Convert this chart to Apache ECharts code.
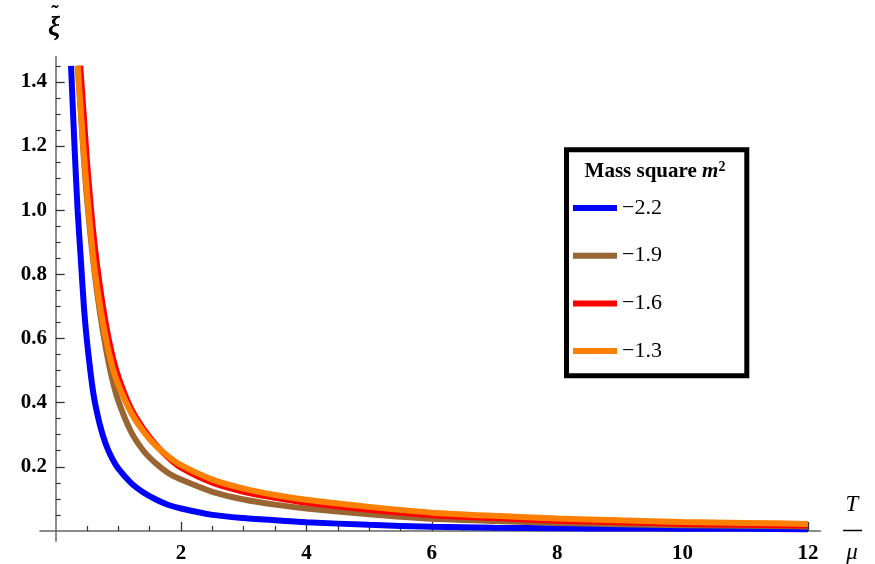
<!DOCTYPE html>
<html>
<head>
<meta charset="utf-8">
<script src="https://cdn.jsdelivr.net/npm/echarts@6/dist/echarts.min.js"></script>
<style>
  html, body { margin: 0; padding: 0; background: #fff; }
  #chart { width: 875px; height: 564px; }
</style>
</head>
<body>
<div id="chart"></div>
<script>
  // legend entries (mass square m^2) and their colours
  var massNames = ['−2.2', '−1.9', '−1.6', '−1.3']
  var lineColors = ['#0000ff', '#996633', '#ff0000', '#ff8000']

  // curves: T/mu -> xi tilde
  var tBlue = [0.245, 0.3, 0.35, 0.4, 0.45, 0.5, 0.6, 0.7, 0.8, 0.9, 1.0, 1.2, 1.4, 1.6, 1.8, 2.0, 2.5, 3.0, 3.5, 4.0, 5.0, 6.0, 7.0, 8.0, 9.0, 10, 11, 12]
  var xiBlue = [1.45, 1.20, 1.00, 0.85, 0.70, 0.59, 0.43, 0.335, 0.27, 0.226, 0.194, 0.150, 0.120, 0.098, 0.081, 0.070, 0.050, 0.040, 0.033, 0.027, 0.019, 0.013, 0.010, 0.0085, 0.0075, 0.007, 0.0065, 0.005]

  var tBrown = [0.35, 0.4, 0.45, 0.5, 0.6, 0.7, 0.8, 0.9, 1.0, 1.2, 1.4, 1.6, 1.8, 2.0, 2.5, 3.0, 3.5, 4.0, 5.0, 6.0, 7.0, 8.0, 9.0, 10, 11, 12]
  var xiBrown = [1.45, 1.31, 1.16, 1.035, 0.84, 0.69, 0.57, 0.475, 0.405, 0.31, 0.25, 0.21, 0.18, 0.16, 0.122, 0.098, 0.082, 0.070, 0.052, 0.038, 0.031, 0.025, 0.021, 0.018, 0.016, 0.014]

  var tRed = [0.392, 0.45, 0.5, 0.6, 0.7, 0.8, 0.9, 1.0, 1.2, 1.4, 1.6, 1.8, 2.0, 2.5, 3.0, 3.5, 4.0, 5.0, 6.0, 7.0, 8.0, 9.0, 10, 11, 12]
  var xiRed = [1.45, 1.29, 1.15, 0.93, 0.77, 0.645, 0.55, 0.48, 0.382, 0.318, 0.268, 0.228, 0.197, 0.150, 0.122, 0.103, 0.088, 0.066, 0.049, 0.040, 0.032, 0.027, 0.022, 0.019, 0.017]

  var tOrange = [0.352, 0.4, 0.45, 0.5, 0.6, 0.7, 0.8, 0.9, 1.0, 1.2, 1.4, 1.6, 1.8, 2.0, 2.5, 3.0, 3.5, 4.0, 5.0, 6.0, 7.0, 8.0, 9.0, 10, 11, 12]
  var xiOrange = [1.45, 1.31, 1.175, 1.055, 0.85, 0.71, 0.60, 0.515, 0.455, 0.37, 0.31, 0.265, 0.232, 0.205, 0.16, 0.132, 0.112, 0.097, 0.075, 0.057, 0.047, 0.039, 0.033, 0.028, 0.025, 0.022]

  // ticks
  var xMajor = [2, 4, 6, 8, 10, 12]
  var xMinor = [0.5, 1, 1.5, 2.5, 3, 3.5, 4.5, 5, 5.5, 6.5, 7, 7.5, 8.5, 9, 9.5, 10.5, 11, 11.5]
  var yMajor = [0.2, 0.4, 0.6, 0.8, 1.0, 1.2, 1.4]
  var yMinor = [0.05, 0.1, 0.15, 0.25, 0.3, 0.35, 0.45, 0.5, 0.55, 0.65, 0.7, 0.75, 0.85, 0.9, 0.95, 1.05, 1.1, 1.15, 1.25, 1.3, 1.35, 1.45]

  function zip (xs, ys) {
    return xs.map(function (x, i) { return [x, ys[i]] })
  }

  var curves = [
    zip(tBlue, xiBlue),
    zip(tBrown, xiBrown),
    zip(tRed, xiRed),
    zip(tOrange, xiOrange)
  ]

  var serif = '"Liberation Serif", "DejaVu Serif", serif'
  var xRange = {min: -0.25, max: 12.2}
  var yRange = {min: -0.032, max: 1.478}
  var gridBox = {left: 40, right: 54.5, top: 56.8, bottom: 22.8, outerBoundsMode: 'none', containLabel: false}

  var chart = echarts.init(document.getElementById('chart'), null, {renderer: 'canvas'})

  chart.setOption({
    animation: false,
    backgroundColor: '#fff',
    grid: [
      Object.assign({}, gridBox),
      Object.assign({}, gridBox)  // second grid only carries the minor ticks
    ],
    xAxis: [
      {
        type: 'value', gridIndex: 0, min: xRange.min, max: xRange.max,
        axisLine: {show: true, onZero: true, lineStyle: {color: '#666', width: 1.5}},
        axisTick: {show: true, inside: true, length: 9, customValues: xMajor, lineStyle: {color: '#333', width: 1.3}},
        // labels get placed from the grid edge, so the margin is small
        axisLabel: {show: true, customValues: xMajor, margin: 2, color: '#000', fontFamily: serif, fontSize: 21, fontWeight: 'bold'},
        splitLine: {show: false}
      },
      {
        type: 'value', gridIndex: 1, min: xRange.min, max: xRange.max,
        axisLine: {show: false, onZero: true},
        axisTick: {show: true, inside: true, length: 5, customValues: xMinor, lineStyle: {color: '#333', width: 1.2}},
        axisLabel: {show: false},
        splitLine: {show: false}
      }
    ],
    yAxis: [
      {
        type: 'value', gridIndex: 0, min: yRange.min, max: yRange.max,
        axisLine: {show: true, onZero: true, lineStyle: {color: '#666', width: 1.5}},
        axisTick: {show: true, inside: true, length: 9, customValues: yMajor, lineStyle: {color: '#333', width: 1.3}},
        axisLabel: {
          show: true, customValues: yMajor, margin: -7, color: '#000', fontFamily: serif, fontSize: 21, fontWeight: 'bold',
          formatter: function (v) { return v.toFixed(1) }
        },
        splitLine: {show: false}
      },
      {
        type: 'value', gridIndex: 1, min: yRange.min, max: yRange.max,
        axisLine: {show: false, onZero: true},
        axisTick: {show: true, inside: true, length: 5, customValues: yMinor, lineStyle: {color: '#333', width: 1.2}},
        axisLabel: {show: false},
        splitLine: {show: false}
      }
    ],
    legend: {
      orient: 'vertical',
      left: 573,
      top: 197,
      padding: 0,
      itemGap: 25.7,
      itemWidth: 44,
      itemHeight: 6,
      itemTextGap: 4,
      icon: 'rect',
      selectedMode: false,
      textStyle: {color: '#000', fontFamily: serif, fontSize: 22, lineHeight: 22},
      data: massNames
    },
    graphic: [
      // legend frame
      {
        type: 'rect', z: 0,
        shape: {x: 566.5, y: 149.8, width: 180.3, height: 226},
        style: {fill: '#fff', stroke: '#000', lineWidth: 5}
      },
      {
        type: 'text', z: 10,
        style: {
          x: 655, y: 172, align: 'center', verticalAlign: 'middle',
          text: '{a|Mass square }{m|m}{s|2}',
          rich: {
            a: {fontFamily: serif, fontSize: 21, lineHeight: 24, fontWeight: 'bold', fill: '#000'},
            m: {fontFamily: serif, fontSize: 21, lineHeight: 24, fontStyle: 'italic', fontWeight: 'bold', fill: '#000'},
            s: {fontFamily: serif, fontSize: 14, lineHeight: 24, fontWeight: 'bold', verticalAlign: 'top', fill: '#000'}
          }
        }
      },
      // y axis label: xi with a tilde on top
      {
        type: 'text',
        style: {x: 54, y: 28, align: 'center', verticalAlign: 'middle', text: 'ξ', font: 'italic bold 27px ' + serif, fill: '#000'}
      },
      {
        type: 'text',
        style: {x: 55, y: 14, align: 'center', verticalAlign: 'middle', text: '˜', font: 'bold 22px ' + serif, fill: '#000'}
      },
      // x axis label T / mu
      {
        type: 'text',
        style: {x: 852, y: 505, align: 'center', verticalAlign: 'middle', text: 'T', font: 'italic 23px ' + serif, fill: '#000'}
      },
      {
        type: 'line',
        shape: {x1: 843, y1: 530.5, x2: 862, y2: 530.5},
        style: {stroke: '#000', lineWidth: 1.5}
      },
      {
        type: 'text',
        style: {x: 852, y: 553, align: 'center', verticalAlign: 'middle', text: 'μ', font: 'italic 23px ' + serif, fill: '#000'}
      }
    ],
    series: curves.map(function (pts, i) {
      return {
        name: massNames[i],
        type: 'line',
        xAxisIndex: 0,
        yAxisIndex: 0,
        data: pts,
        smooth: 0.25,
        showSymbol: false,
        symbol: 'none',
        clip: true,
        color: lineColors[i],
        itemStyle: {color: lineColors[i]},
        lineStyle: {color: lineColors[i], width: 6, cap: 'butt'}
      }
    })
  })
</script>
</body>
</html>
